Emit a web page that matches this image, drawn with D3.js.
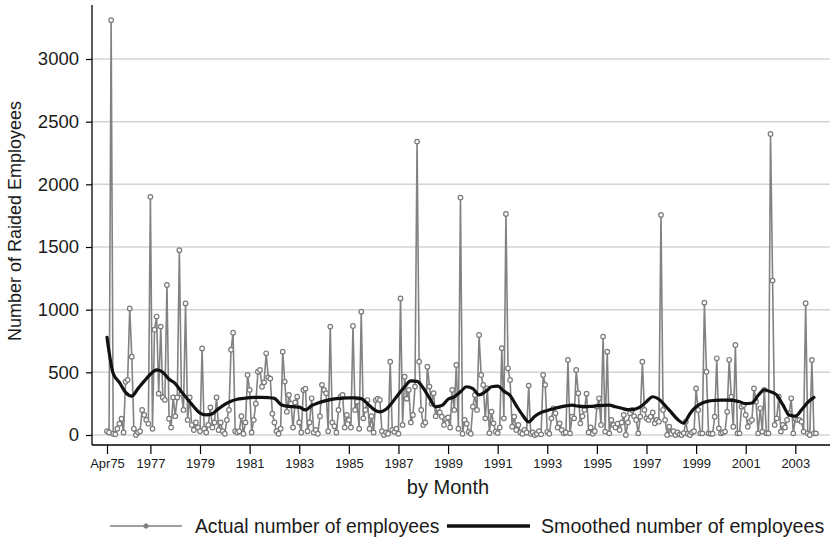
<!DOCTYPE html>
<html>
<head>
<script src="https://cdn.jsdelivr.net/npm/d3@7"></script>
<style>
body { margin: 0; background: #fff; }
svg text { font-family: "Liberation Sans", Arial, sans-serif; fill: #1a1a1a; }
</style>
</head>
<body>
<script>
// monthly raided employees, Apr 1975 .. Nov 2003
var firstYear = 1975, firstMonth = 3;
var actual = [
  30, 20, 3310, 10, 5, 50, 90, 130, 20,
  425, 440, 1010, 625, 50, 0, 20, 30, 200, 160, 120, 90,
  1900, 50, 840, 945, 330, 865, 300, 280, 1197, 130, 60, 300,
  150, 300, 1475, 330, 200, 1050, 120, 300, 80, 40, 100, 60,
  30, 690, 50, 20, 80, 220, 60, 100, 300, 40, 100, 30,
  10, 120, 200, 680, 816, 30, 20, 30, 150, 10, 100, 479,
  360, 20, 120, 250, 505, 519, 385, 420, 652, 460, 450, 170,
  100, 30, 10, 50, 665, 426, 186, 319, 250, 60, 260, 306,
  100, 20, 359, 370, 30, 100, 293, 20, 40, 10, 150, 400,
  360, 333, 30, 865, 100, 70, 20, 200, 306, 319, 60, 160,
  120, 60, 870, 200, 266, 50, 984, 133, 200, 279, 50, 150,
  20, 279, 290, 280, 30, 0, 20, 10, 585, 40, 25, 50,
  10, 1090, 80, 465, 290, 360, 100, 160, 386, 2341, 585, 200,
  80, 100, 545, 386, 250, 333, 150, 213, 180, 146, 80, 130,
  140, 60, 360, 200, 559, 50, 1894, 10, 120, 90, 25, 10,
  226, 319, 200, 798, 479, 399, 133, 372, 15, 186, 93, 27,
  15, 60, 692, 133, 1764, 532, 439, 66, 146, 40, 80, 20,
  10, 40, 20, 394, 10, 20, 0, 10, 30, 5, 479, 400,
  25, 10, 133, 213, 173, 60, 93, 40, 13, 20, 599, 13,
  146, 133, 519, 333, 93, 150, 200, 330, 20, 60, 10, 30,
  226, 293, 80, 785, 27, 665, 13, 120, 80, 60, 90, 40,
  100, 160, 0, 100, 173, 200, 150, 120, 13, 146, 585, 200,
  133, 120, 146, 180, 93, 120, 106, 1756, 200, 120, 0, 66,
  10, 30, 0, 20, 5, 0, 15, 106, 10, 0, 20, 30,
  372, 200, 13, 13, 1056, 505, 13, 10, 10, 146, 612, 53,
  13, 20, 27, 186, 600, 306, 66, 718, 13, 13, 226, 239,
  160, 66, 106, 120, 372, 266, 13, 213, 27, 359, 13, 13,
  2402, 1232, 80, 133, 306, 27, 80, 60, 120, 173, 293, 13,
  130, 120, 120, 106, 27, 1051, 13, 0, 599, 13, 13
];

// smoothed series, read every 3 months
var smoothStep = 3;
var smoothed = [
  780, 490, 420, 340, 310, 370, 430, 485, 519, 500, 445, 410,
  345, 285, 225, 175, 160, 170, 210, 245, 270, 285, 292, 298,
  300, 300, 298, 292, 245, 230, 226, 222, 200, 235, 255, 270,
  282, 290, 295, 296, 296, 290, 250, 205, 185, 205, 260, 325,
  385, 432, 428, 375, 295, 225, 235, 285, 305, 345, 385, 370,
  320, 345, 385, 390, 350, 315, 235, 160, 105, 150, 180, 196,
  210, 222, 232, 238, 230, 226, 228, 233, 237, 238, 225, 213,
  202, 205, 225, 266, 305, 285, 235, 180, 125, 95, 170, 225,
  255, 270, 276, 279, 279, 276, 265, 250, 255, 315, 360, 345,
  319, 240, 160, 150, 200, 260, 300
];

var yTicks = [0, 500, 1000, 1500, 2000, 2500, 3000];
var xTickYears = [1975, 1977, 1979, 1981, 1983, 1985, 1987, 1989, 1991, 1993, 1995, 1997, 1999, 2001, 2003];
var xTickLabels = ["Apr75", "1977", "1979", "1981", "1983", "1985", "1987", "1989", "1991", "1993", "1995", "1997", "1999", "2001", "2003"];

var W = 836, H = 539;
var svg = d3.select("body").append("svg").attr("width", W).attr("height", H);

var x = d3.scaleLinear().domain([0, 343]).range([107, 816]);
var y = d3.scaleLinear().domain([0, 3000]).range([435, 59]);
var axisY = 445, axisX = 92;

function monthIndex(yr) {
  return yr === firstYear ? 0 : (yr - firstYear) * 12 - firstMonth;
}

// gridlines
svg.append("g").selectAll("line").data(yTicks).enter().append("line")
  .attr("x1", axisX).attr("x2", 830)
  .attr("y1", function (d) { return y(d); })
  .attr("y2", function (d) { return y(d); })
  .attr("stroke", "#d4d4d4").attr("stroke-width", 1.5);

// y axis
var yAxis = d3.axisLeft(y).tickValues(yTicks).tickFormat(d3.format("d")).tickSize(6).tickPadding(7);
var gy = svg.append("g").attr("transform", "translate(" + axisX + ",0)").call(yAxis);
gy.select(".domain").remove();
gy.append("line").attr("x1", 0).attr("x2", 0).attr("y1", 5).attr("y2", axisY)
  .attr("stroke", "#000").attr("stroke-width", 1.3);
gy.selectAll(".tick line").attr("stroke", "#000").attr("stroke-width", 1.2);
gy.selectAll(".tick text").style("font-size", "18.5px").attr("fill", "#1a1a1a");

// x axis
var xAxis = d3.axisBottom(x)
  .tickValues(xTickYears.map(monthIndex))
  .tickFormat(function (d, i) { return xTickLabels[i]; })
  .tickSize(9).tickPadding(5);
var gx = svg.append("g").attr("transform", "translate(0," + axisY + ")").call(xAxis);
gx.select(".domain").remove();
gx.append("line").attr("x1", axisX).attr("x2", 830).attr("y1", 0).attr("y2", 0)
  .attr("stroke", "#000").attr("stroke-width", 1.3);
gx.selectAll(".tick line").attr("stroke", "#000").attr("stroke-width", 1.2);
gx.selectAll(".tick text").style("font-size", "13px").attr("fill", "#1a1a1a");

// axis titles
svg.append("text").attr("x", 448).attr("y", 494)
  .attr("text-anchor", "middle").style("font-size", "20px").text("by Month");
svg.append("text").attr("transform", "translate(21,221) rotate(-90)")
  .attr("text-anchor", "middle").style("font-size", "18px").text("Number of Raided Employees");

// actual series
var line = d3.line()
  .x(function (d, i) { return x(i); })
  .y(function (d) { return y(d); });

svg.append("path").datum(actual).attr("d", line)
  .attr("fill", "none").attr("stroke", "#828282").attr("stroke-width", 1.6)
  .attr("stroke-linejoin", "round");

svg.append("g").selectAll("circle").data(actual).enter().append("circle")
  .attr("cx", function (d, i) { return x(i); })
  .attr("cy", function (d) { return y(d); })
  .attr("r", 2.3)
  .attr("fill", "#fff").attr("stroke", "#7a7a7a").attr("stroke-width", 1.2);

// smoothed series
var smoothLine = d3.line()
  .x(function (d, i) { return x(Math.min(i * smoothStep, 343)); })
  .y(function (d) { return y(d); })
  .curve(d3.curveMonotoneX);

svg.append("path").datum(smoothed).attr("d", smoothLine)
  .attr("fill", "none").attr("stroke", "#111").attr("stroke-width", 3.2)
  .attr("stroke-linejoin", "round").attr("stroke-linecap", "round");

// legend
var lg = svg.append("g").attr("transform", "translate(0,526)");
lg.append("line").attr("x1", 110).attr("x2", 182).attr("y1", 0).attr("y2", 0)
  .attr("stroke", "#808080").attr("stroke-width", 1.6);
lg.append("circle").attr("cx", 146).attr("cy", 0).attr("r", 2.2)
  .attr("fill", "#808080").attr("stroke", "#808080");
lg.append("text").attr("x", 195).attr("y", 7).style("font-size", "19.3px")
  .text("Actual number of employees");
lg.append("line").attr("x1", 447).attr("x2", 530).attr("y1", 0).attr("y2", 0)
  .attr("stroke", "#111").attr("stroke-width", 3.5);
lg.append("text").attr("x", 541).attr("y", 7).style("font-size", "19.6px")
  .text("Smoothed number of employees");
</script>
</body>
</html>
